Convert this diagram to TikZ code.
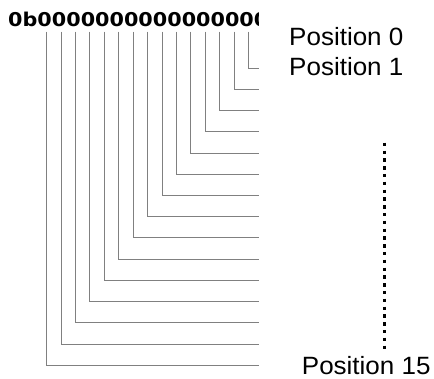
\documentclass[tikz,border=0pt]{standalone}
\usepackage{fontspec}
\setmainfont{Liberation Sans}
\newfontfamily\bitfont{DejaVu Sans}
\definecolor{linegray}{RGB}{128,128,128}
\begin{document}
\begin{tikzpicture}[x=1pt,y=-1pt,
  wire/.style={draw=linegray,line width=1pt},
  poslabel/.style={anchor=base west,inner sep=0pt,xscale=1.04,font=\fontsize{25}{30}\selectfont},
  bits/.style={anchor=base west,inner sep=0pt,xscale=1.091,font=\bitfont\bfseries\fontsize{19}{22}\selectfont},
  dotline/.style={line width=3.4pt,dash pattern=on 3.4pt off 4.4pt}]
\useasboundingbox (0,0) rectangle (434,378);
\begin{scope}
  \clip (0,0) rectangle (258.5,40);
  \node[bits] (bitstr) at (8,26.7) {0b0000000000000000};
\end{scope}
\foreach \i in {1,...,15}{
  \pgfmathsetmacro{\xx}{248.7-14.43*(\i-1)}
  \pgfmathsetmacro{\yy}{68.3+21.21*(\i-1)}
  \coordinate (t\i) at (\xx,31.7);
  \coordinate (e\i) at (259,\yy);
  \draw[wire] (t\i) |- (e\i);
}
\node[poslabel] (p0) at (289,45.7) {Position 0};
\node[poslabel] (p1) at (289,75) {Position 1};
\node[poslabel] (p15) at (301.7,374) {Position 15};
\coordinate (d0) at (384.3,142.7);
\coordinate (d1) at (384.3,352);
\draw[dotline] (d0) -- (d1);
\end{tikzpicture}
\end{document}
